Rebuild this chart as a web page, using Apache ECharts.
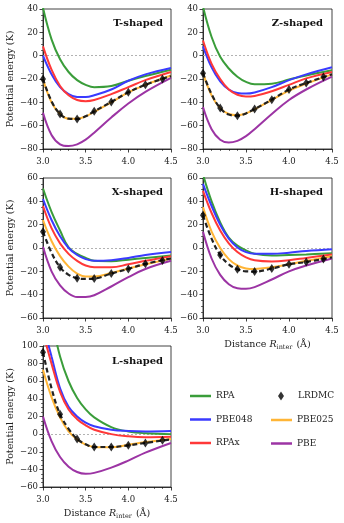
<!DOCTYPE html>
<html><head><meta charset="utf-8">
<script src="https://cdn.jsdelivr.net/npm/echarts@6/dist/echarts.min.js"></script>
<style>html,body{margin:0;padding:0;background:#fff}#c{width:344px;height:523px}</style>
</head><body><div id="c"></div><script>
// ---------- data ----------
const xGrid  = [3.0, 3.1, 3.2, 3.3, 3.4, 3.5, 3.6, 3.8, 4.0, 4.2, 4.5];
const lrdmcX = [3.0, 3.2, 3.4, 3.6, 3.8, 4.0, 4.2, 4.4];
const xTicks = [3.0, 3.5, 4.0, 4.5];

// T-shaped
const T_RPA    = [41, 14, -3, -14, -21, -25, -27, -26, -21.5, -17.5, -12];
const T_PBE048 = [0, -16, -27, -33, -35.5, -35.5, -34, -29, -21.5, -16, -10.5];
const T_RPAx   = [8, -12, -26, -34, -38, -39, -38, -33, -27, -21, -14];
const T_PBE025 = [-20, -40, -50, -54, -54, -52, -48, -40, -31.5, -25, -17];
const T_PBE    = [-49, -68, -76, -77.5, -76, -72, -66, -53, -41, -31, -19];
const T_FIT    = [-20, -39, -50, -54, -54.3, -52, -47.7, -39.7, -31.4, -25, -17.5];
const T_LRDMC  = [-20, -50, -54.3, -47.7, -39.7, -31.4, -25, -20];
// Z-shaped
const Z_RPA    = [42, 16, -1, -11, -18, -22.5, -24.5, -24, -20.5, -17, -12.5];
const Z_PBE048 = [8, -10, -22, -29, -32, -32.5, -31.5, -27, -21, -16, -10];
const Z_RPAx   = [13, -7, -20, -29, -33.5, -35, -34.5, -30.5, -25, -19.5, -14];
const Z_PBE025 = [-15, -34, -45, -50, -51, -49.5, -46, -38, -30, -24, -16];
const Z_PBE    = [-44, -63, -72, -74.5, -73, -69, -63, -50, -38, -29, -18];
const Z_FIT    = [-15, -33, -44.9, -50.5, -51.4, -49.5, -45.7, -37.7, -29.1, -23.4, -16];
const Z_LRDMC  = [-15, -44.9, -51.4, -45.7, -37.7, -29.1, -23.4, -18.3];
// X-shaped
const X_RPA    = [51, 31, 15, 0.5, -5, -8.5, -11, -11.3, -10, -8.5, -6.5];
const X_PBE048 = [42, 24, 10, 0, -6, -9.5, -11, -10.5, -8.5, -6, -3.5];
const X_RPAx   = [36, 17, 4, -5, -11, -15, -16.5, -16.5, -14, -11, -7];
const X_PBE025 = [24, 6, -7, -16, -22, -24.5, -24.5, -21.5, -17.5, -14, -9];
const X_PBE    = [1, -20, -32, -39, -42, -42, -40.5, -33, -25, -18, -11];
const X_FIT    = [14, -4, -16.5, -23, -25.9, -26.5, -26.2, -21.9, -17.9, -13.6, -9];
const X_LRDMC  = [14, -16.5, -25.9, -26.2, -21.9, -17.9, -13.6, -10.8];
// H-shaped
const H_RPA    = [63, 40, 22, 9, 2, -2, -5, -6.5, -6, -5.5, -4.5];
const H_PBE048 = [55, 36, 20, 8, 0.5, -3.5, -5, -5, -4, -2.5, -1];
const H_RPAx   = [49, 30, 15, 4, -3.5, -8, -10.5, -11.5, -10.5, -8.5, -5.5];
const H_PBE025 = [35, 14, 0, -9.5, -15, -17.5, -18, -16.5, -14, -11, -7];
const H_PBE    = [14, -9, -23, -31, -34.5, -35, -33.5, -27, -20, -15, -9];
const H_FIT    = [28, 8, -6, -14, -18.2, -20, -20.2, -17.6, -14, -12, -8];
const H_LRDMC  = [28, -6, -18.2, -20.2, -17.6, -14, -12, -9.4];
// L-shaped
const L_RPA    = [190, 132, 88, 60, 41, 28, 19, 8, 3, 1, 0];
const L_PBE048 = [125, 88, 52, 31, 20, 13, 9, 5, 3.5, 3, 3.5];
const L_RPAx   = [115, 80, 48, 28, 17, 10, 5, 0, -2.5, -3.5, -3];
const L_PBE025 = [73, 42, 19, 3, -6, -12, -14.5, -15, -12, -9, -5.5];
const L_PBE    = [20, -8, -26, -37, -43, -45, -44, -38, -30, -21, -10];
const L_FIT    = [93, 52, 22.5, 6, -5.5, -11.5, -14.6, -14.6, -12.7, -10, -6];
const L_LRDMC  = [93, 22.5, -5.5, -14.6, -14.6, -12.7, -10, -7];

const seriesNames = ['RPA', 'PBE048', 'RPAx', 'PBE025', 'PBE'];
const panelTitles = ['T-shaped', 'Z-shaped', 'X-shaped', 'H-shaped', 'L-shaped'];
const yMins = [-80, -80, -60, -60, -60];
const yMaxs = [40, 40, 60, 60, 100];

const panelData = [
  [T_RPA, T_PBE048, T_RPAx, T_PBE025, T_PBE, T_FIT, T_LRDMC],
  [Z_RPA, Z_PBE048, Z_RPAx, Z_PBE025, Z_PBE, Z_FIT, Z_LRDMC],
  [X_RPA, X_PBE048, X_RPAx, X_PBE025, X_PBE, X_FIT, X_LRDMC],
  [H_RPA, H_PBE048, H_RPAx, H_PBE025, H_PBE, H_FIT, H_LRDMC],
  [L_RPA, L_PBE048, L_RPAx, L_PBE025, L_PBE, L_FIT, L_LRDMC]
];

// ---------- style / layout ----------
const FONT = "'DejaVu Serif','Liberation Serif',serif";
const colors = ['#3a9d3a', '#3a3aff', '#ff3838', '#ffb536', '#9c34a4'];
const grids = [
  {left: 43, top: 9, width: 128, height: 140},
  {left: 203, top: 9, width: 129, height: 140},
  {left: 43, top: 178, width: 128, height: 140},
  {left: 203, top: 178, width: 129, height: 140},
  {left: 43, top: 346, width: 128, height: 141}
];
const titleRight = [176, 16, 176, 16, 176];
const titleTop = [13, 13, 182, 182, 351];
const showYName = [true, false, true, false, true];
const showXName = [false, false, false, true, true];

const fmtY = v => (v < 0 ? '\u2212' + Math.abs(v) : String(v));
const zip = (xs, ys) => xs.map((x, i) => [x, ys[i]]);
const legendText = {fontFamily: FONT, fontSize: 9, color: '#222'};

const option = {
  animation: false,
  backgroundColor: '#fff',
  title: panelTitles.map((t, i) => ({
    text: t, right: titleRight[i], top: titleTop[i],
    textStyle: {fontFamily: FONT, fontSize: 10, fontWeight: 'bold', color: '#111'}
  })),
  grid: grids.map(g => Object.assign({show: true, borderColor: '#111', borderWidth: 0.8, backgroundColor: 'transparent'}, g)),
  xAxis: grids.map((g, i) => ({
    type: 'value', gridIndex: i, min: 3.0, max: 4.5, interval: 0.5,
    axisLine: {show: true, onZero: false, lineStyle: {color: '#111', width: 0.8}},
    axisTick: {show: true, length: 3.5, lineStyle: {color: '#111', width: 0.8}},
    minorTick: {show: true, splitNumber: 5, length: 2, lineStyle: {color: '#111', width: 0.6}},
    splitLine: {show: false},
    axisLabel: {fontFamily: FONT, fontSize: 8.5, color: '#222', margin: 8, formatter: v => v.toFixed(1)},
    name: showXName[i] ? '{n|Distance }{i|R}{s|inter}{n| (\u00C5)}' : '',
    nameLocation: 'middle', nameGap: 21,
    nameTextStyle: {
      fontFamily: FONT, fontSize: 9.5, color: '#222',
      rich: {
        n: {fontFamily: FONT, fontSize: 9.5, color: '#222'},
        i: {fontFamily: FONT, fontSize: 9.5, fontStyle: 'italic', color: '#222'},
        s: {fontFamily: FONT, fontSize: 6.5, color: '#222', padding: [5, 1, 0, 0]}
      }
    }
  })),
  yAxis: grids.map((g, i) => ({
    type: 'value', gridIndex: i, min: yMins[i], max: yMaxs[i], interval: 20,
    axisLine: {show: true, onZero: false, lineStyle: {color: '#111', width: 0.8}},
    axisTick: {show: true, length: 3.5, lineStyle: {color: '#111', width: 0.8}},
    minorTick: {show: true, splitNumber: 4, length: 2, lineStyle: {color: '#111', width: 0.6}},
    splitLine: {show: false},
    axisLabel: {fontFamily: FONT, fontSize: 8.5, color: '#222', margin: 5, formatter: fmtY},
    name: showYName[i] ? 'Potential energy (K)' : '',
    nameLocation: 'middle', nameGap: 27,
    nameTextStyle: {fontFamily: FONT, fontSize: 9.5, color: '#222'}
  })),
  legend: [
    {
      data: ['RPA', 'PBE048', 'RPAx'], orient: 'vertical', left: 190, top: 391.5, padding: 0,
      icon: 'rect', itemWidth: 21, itemHeight: 2.5, itemGap: 14.5, textStyle: legendText
    },
    {
      data: ['PBE025', 'PBE'], orient: 'vertical', left: 271, top: 415.5, padding: 0,
      icon: 'rect', itemWidth: 21, itemHeight: 2.5, itemGap: 14.5, textStyle: legendText
    },
    {
      data: [{name: 'LRDMC', icon: 'diamond'}], orient: 'vertical', left: 278, top: 391.5, padding: 0,
      itemWidth: 6, itemHeight: 9,
      textStyle: Object.assign({padding: [0, 0, 0, 9]}, legendText)
    }
  ],
  series: []
};

panelData.forEach((arrs, p) => {
  seriesNames.forEach((name, k) => {
    const s = {
      name, type: 'line', xAxisIndex: p, yAxisIndex: p,
      data: zip(xGrid, arrs[k]), smooth: 0.4, symbol: 'none', clip: true,
      color: colors[k], lineStyle: {color: colors[k], width: 2}, z: 2
    };
    if (k === 0) {
      s.markLine = {
        silent: true, symbol: 'none', label: {show: false},
        lineStyle: {color: '#aaa', type: [2, 2], width: 0.9},
        data: [{yAxis: 0}], z: 1
      };
    }
    option.series.push(s);
  });
  option.series.push({
    name: 'LRDMC fit', type: 'line', xAxisIndex: p, yAxisIndex: p,
    data: zip(xGrid, arrs[5]), smooth: 0.4, symbol: 'none', clip: true,
    lineStyle: {color: '#222', width: 2.2, type: [5, 3]}, z: 3
  });
  option.series.push({
    name: 'LRDMC', type: 'scatter', xAxisIndex: p, yAxisIndex: p,
    data: zip(lrdmcX, arrs[6]), symbol: 'diamond', symbolSize: [6, 9],
    color: '#000', itemStyle: {color: '#000'}, z: 4
  });
});

const chart = echarts.init(document.getElementById('c'), null, {renderer: 'canvas'});
chart.setOption(option);
</script></body></html>
